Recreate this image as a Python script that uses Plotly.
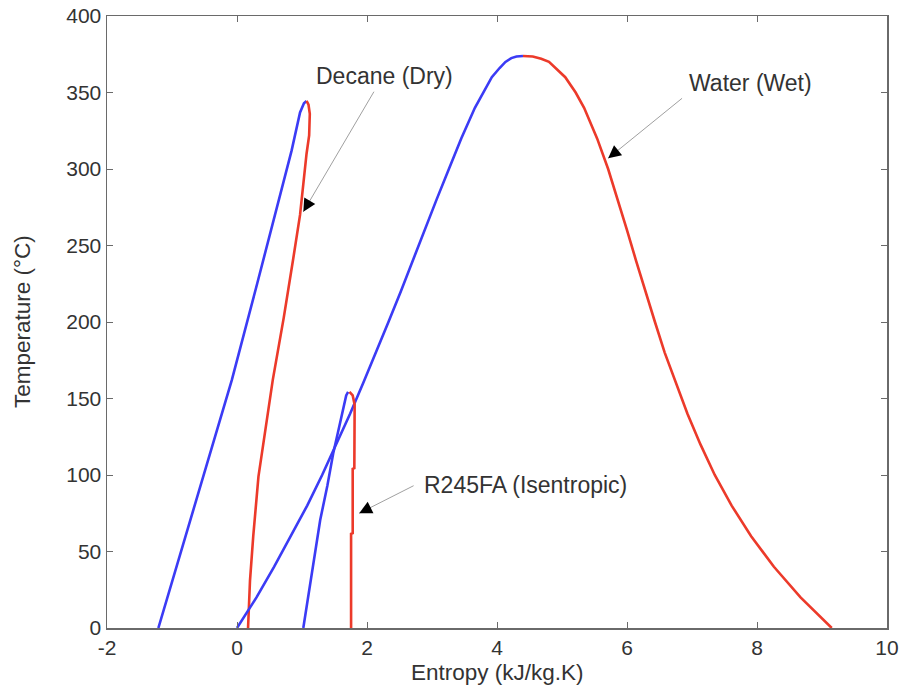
import plotly.graph_objects as go

# ---- data ----
# Decane (dry fluid)
decane_liq_s = [-1.21, -0.67, -0.08, 0.31, 0.84, 0.97, 1.03, 1.07]
decane_liq_T = [0, 78, 162, 225, 312, 337, 343, 344.5]
decane_vap_s = [1.07, 1.10, 1.12, 1.11, 1.07, 1.02, 0.97, 0.86, 0.72, 0.55, 0.47, 0.40, 0.33, 0.25, 0.20, 0.17]
decane_vap_T = [344.5, 342, 336, 322, 310, 290, 270, 240, 203, 162, 140, 119, 99, 60, 31, 0]

# Water (wet fluid)
water_liq_s = [0, 0.30, 0.57, 0.83, 1.08, 1.31, 1.53, 1.74, 1.94, 2.14, 2.33, 2.52,
               2.70, 2.88, 3.07, 3.26, 3.45, 3.66, 3.92, 4.04, 4.13, 4.22, 4.30, 4.40]
water_liq_T = [0, 20, 40, 60, 80, 100, 120, 140, 160, 180, 200, 220,
               240, 260, 280, 300, 320, 340, 360, 366, 370, 372.5, 373.5, 373.9]
water_vap_s = [4.40, 4.55, 4.68, 4.80, 5.05, 5.21, 5.34, 5.54, 5.71, 5.86, 6.00, 6.14,
               6.28, 6.43, 6.58, 6.75, 6.93, 7.13, 7.35, 7.61, 7.91, 8.26, 8.67, 9.15]
water_vap_T = [373.9, 373.5, 372, 370, 360, 350, 340, 320, 300, 280, 260, 240,
               220, 200, 180, 160, 140, 120, 100, 80, 60, 40, 20, 0]

# R245FA (isentropic fluid)
r245_liq_s = [1.02, 1.15, 1.28, 1.39, 1.48, 1.57, 1.64, 1.68, 1.71]
r245_liq_T = [0, 35, 70.6, 93, 114, 131, 144.6, 152, 154.4]
r245_vap_s = [1.73, 1.78, 1.81, 1.81, 1.805, 1.78, 1.78, 1.755, 1.755]
r245_vap_T = [154.4, 152, 146, 130, 104.5, 104, 62, 61.5, 0]

x_ticks = [-2, 0, 2, 4, 6, 8, 10]
y_ticks = [0, 50, 100, 150, 200, 250, 300, 350, 400]

BLUE = "#3b3bf5"
RED = "#ec3a2a"
TXT = "#333333"
FONT = "Liberation Sans, Arial, Helvetica, sans-serif"

fig = go.Figure()

def add_line(xs, ys, color):
    fig.add_trace(go.Scatter(x=xs, y=ys, mode="lines",
                             line=dict(color=color, width=2.6),
                             showlegend=False, hoverinfo="skip", cliponaxis=False))

add_line(decane_liq_s, decane_liq_T, BLUE)
add_line(decane_vap_s, decane_vap_T, RED)
add_line(water_liq_s, water_liq_T, BLUE)
add_line(water_vap_s, water_vap_T, RED)
add_line(r245_liq_s, r245_liq_T, BLUE)
add_line(r245_vap_s, r245_vap_T, RED)

# annotations: label text, text position, arrow tail (data), arrow head (data)
labels = [
    ("Decane (Dry)", 1.19, 361, (2.12, 351.5), (1.02, 272)),
    ("Water (Wet)", 6.93, 356, (6.87, 347), (5.71, 307)),
    ("R245FA (Isentropic)", 2.84, 93.5, (2.74, 93.5), (1.88, 75)),
]

for text, tx, ty, tail, head in labels:
    fig.add_annotation(x=tx, y=ty, xref="x", yref="y", text=text,
                       showarrow=False, xanchor="left", yanchor="middle",
                       font=dict(family=FONT, size=23, color=TXT))
    # thin gray shaft
    fig.add_annotation(x=head[0], y=head[1], ax=tail[0], ay=tail[1],
                       xref="x", yref="y", axref="x", ayref="y", text="",
                       showarrow=True, arrowhead=0, arrowwidth=1,
                       arrowcolor="#a0a0a0")
    # black arrow head
    dx = tail[0] - head[0]
    dy = tail[1] - head[1]
    px_x = dx * 65.0
    px_y = dy * 1.53
    L = (px_x ** 2 + px_y ** 2) ** 0.5
    k = 14.0 / L
    fig.add_annotation(x=head[0], y=head[1], ax=head[0] + dx * k, ay=head[1] + dy * k,
                       xref="x", yref="y", axref="x", ayref="y", text="",
                       showarrow=True, arrowhead=2, arrowsize=1.7, arrowwidth=1.5,
                       arrowcolor="#000000")

# axis titles
fig.add_annotation(x=0.5, y=0, xref="paper", yref="paper", text="Entropy (kJ/kg.K)",
                   showarrow=False, xanchor="center", yanchor="middle", yshift=-44,
                   font=dict(family=FONT, size=22.5, color=TXT))
fig.add_annotation(x=0, y=0.5, xref="paper", yref="paper", text="Temperature (°C)",
                   showarrow=False, xanchor="center", yanchor="middle", xshift=-85,
                   textangle=-90, font=dict(family=FONT, size=22.5, color=TXT))

axis_common = dict(showgrid=False, zeroline=False, showline=True, linecolor="#6a6a6a",
                   linewidth=1.5, mirror="ticks", ticks="inside", ticklen=6,
                   tickcolor="#6a6a6a", tickwidth=1, automargin=False,
                   ticklabeloverflow="allow",
                   tickfont=dict(family=FONT, size=21, color=TXT))

fig.update_xaxes(range=[-2, 10], tickvals=x_ticks, ticktext=[str(v) for v in x_ticks],
                 **axis_common)
fig.update_yaxes(range=[0, 400], tickvals=y_ticks, ticktext=[str(v) for v in y_ticks],
                 **axis_common)

fig.update_layout(width=904, height=687,
                  margin=dict(l=107, r=17, t=16, b=59, autoexpand=False),
                  plot_bgcolor="white", paper_bgcolor="white",
                  font=dict(family=FONT))

# remove the default 8px page margin so the figure fills the window exactly
fig.write_html("out.html",
               config={"displayModeBar": False, "staticPlot": True},
               post_script="document.body.style.margin='0';document.body.style.overflow='hidden';")
